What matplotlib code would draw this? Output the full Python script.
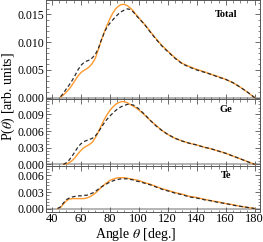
import numpy as np
import matplotlib.pyplot as plt
from matplotlib.ticker import MultipleLocator

plt.rcParams['font.family'] = ['Liberation Serif', 'DejaVu Serif']
plt.rcParams['mathtext.fontset'] = 'stix'

# angle grid (deg.)
angle = [44, 46, 48, 50, 52, 54, 56, 58, 60, 62, 64, 66, 68, 70, 72, 74, 76, 78,
         80, 82, 84, 86, 88, 90, 92, 94, 96, 98, 100, 104, 108, 112, 116, 120,
         125, 130, 135, 140, 145, 150, 155, 160, 165, 170, 175, 180]

nan = np.nan

total_ref = [nan, 0.0002, 0.0008, 0.0016, 0.0023, 0.0031, 0.0040, 0.0050, 0.0058, 0.0063,
             0.0066, 0.0068, 0.0072, 0.0078, 0.0088, 0.0103, 0.0116, 0.0127, 0.0134, 0.0140,
             0.0146, 0.0151, 0.0155, 0.0158, 0.0160, 0.0159, 0.0155, 0.0149, 0.0143, 0.0132,
             0.0118, 0.0105, 0.0093, 0.0083, 0.0071, 0.0061, 0.0055, 0.0050, 0.0046, 0.0042,
             0.0037, 0.0033, 0.0027, 0.0019, 0.0010, 0.0]
total_new = [nan, 0.0001, 0.0005, 0.0010, 0.0016, 0.0023, 0.0031, 0.0039, 0.0045, 0.0049,
             0.0052, 0.0056, 0.0062, 0.0071, 0.0086, 0.0102, 0.0117, 0.0130, 0.0142, 0.0152,
             0.0160, 0.0165, 0.0168, 0.0168, 0.0166, 0.0162, 0.0157, 0.0150, 0.0144, 0.0132,
             0.0119, 0.0106, 0.0094, 0.0084, 0.0072, 0.0062, 0.0056, 0.0051, 0.0047, 0.0042,
             0.0038, 0.0033, 0.0027, 0.0019, 0.0010, 0.0]

ge_ref = [nan, nan, 0.0, 0.0003, 0.0008, 0.0015, 0.0023, 0.0031, 0.0037, 0.0041,
          0.0043, 0.0045, 0.0047, 0.0051, 0.0058, 0.0066, 0.0074, 0.0081, 0.0087, 0.0092,
          0.0097, 0.0101, 0.0104, 0.0106, 0.0108, 0.0108, 0.0107, 0.0104, 0.0100, 0.0090,
          0.0079, 0.0069, 0.0061, 0.0054, 0.0047, 0.0042, 0.0038, 0.0035, 0.0031, 0.0028,
          0.0024, 0.0020, 0.0015, 0.0010, 0.0005, 0.0]
ge_new = [nan, nan, 0.0, 0.0001, 0.0003, 0.0007, 0.0012, 0.0019, 0.0025, 0.0030,
          0.0033, 0.0036, 0.0040, 0.0048, 0.0058, 0.0069, 0.0080, 0.0089, 0.0097, 0.0103,
          0.0108, 0.0111, 0.0113, 0.0113, 0.0111, 0.0108, 0.0105, 0.0102, 0.0098, 0.0089,
          0.0079, 0.0070, 0.0061, 0.0054, 0.0047, 0.0042, 0.0038, 0.0035, 0.0031, 0.0028,
          0.0024, 0.0020, 0.0015, 0.0010, 0.0005, 0.0]

te_ref = [0.0, 0.0003, 0.0010, 0.0016, 0.0019, 0.0021, 0.0022, 0.0023, 0.0023, 0.0024,
          0.0024, 0.0026, 0.0028, 0.0031, 0.0035, 0.0039, 0.0042, 0.0045, 0.0048, 0.0050,
          0.0052, 0.0053, 0.0054, 0.0054, 0.0054, 0.0053, 0.0052, 0.0050, 0.0049, 0.0046,
          0.0043, 0.0039, 0.0035, 0.0032, 0.0028, 0.0025, 0.0021, 0.0019, 0.0016, 0.0014,
          0.0011, 0.0009, 0.0006, 0.0004, 0.0002, 0.0]
te_new = [0.0, 0.0002, 0.0008, 0.0014, 0.0017, 0.0018, 0.0018, 0.0018, 0.0018, 0.0018,
          0.0019, 0.0021, 0.0024, 0.0028, 0.0033, 0.0038, 0.0043, 0.0047, 0.0051, 0.0053,
          0.0055, 0.0056, 0.0056, 0.0056, 0.0055, 0.0054, 0.0053, 0.0052, 0.0051, 0.0047,
          0.0044, 0.0040, 0.0036, 0.0033, 0.0029, 0.0026, 0.0022, 0.0020, 0.0017, 0.0014,
          0.0012, 0.0009, 0.0007, 0.0004, 0.0002, 0.0]

panels = [
    ('Total', total_ref, total_new, (-0.00027, 0.0176), [0.000, 0.005, 0.010, 0.015], 0.001, 0.85),
    ('Ge', ge_ref, ge_new, (-0.0002, 0.01173), [0.000, 0.003, 0.006, 0.009], 0.0006, 0.845),
    ('Te', te_ref, te_new, (-0.00072, 0.00781), [0.000, 0.003, 0.006], 0.0006, 0.785),
]

# axes rectangles in figure fractions (left, bottom, width, height)
rects = [
    (0.175, 0.590, 0.814, 0.410),
    (0.175, 0.316, 0.814, 0.274),
    (0.175, 0.122, 0.814, 0.194),
]

fig = plt.figure(figsize=(2.63, 2.42), dpi=100)
frame_col = '#555555'

for i, (name, ref, new, ylim, yt, ymin, ty) in enumerate(panels):
    ax = fig.add_axes(rects[i])
    ax.axhline(0, color='#b4b4b4', lw=1.4, zorder=1)
    ax.plot(angle, ref, color='#2b2b2b', lw=0.9, dashes=(3, 2), zorder=3)
    ax.plot(angle, new, color='#ff9a30', lw=1.0, zorder=2)
    ax.set_xlim(36, 183.7)
    ax.set_ylim(*ylim)
    ax.set_yticks(yt)
    ax.set_yticklabels(['%.3f' % v for v in yt])
    ax.yaxis.set_minor_locator(MultipleLocator(ymin))
    ax.set_xticks([40, 60, 80, 100, 120, 140, 160, 180])
    ax.xaxis.set_minor_locator(MultipleLocator(5))
    ax.tick_params(which='both', direction='in', top=True, right=True,
                   color=frame_col, labelsize=8.5, pad=1.5)
    ax.tick_params(axis='x', labelsize=9, pad=0.5)
    ax.tick_params(which='major', length=3.5, width=0.6)
    ax.tick_params(which='minor', length=1.8, width=0.5)
    for s in ax.spines.values():
        s.set_color(frame_col)
        s.set_linewidth(0.7)
    if i < 2:
        ax.tick_params(labelbottom=False)
    ax.text(0.84, ty, name, transform=ax.transAxes, ha='center', va='center',
            fontsize=7.5, fontweight='bold')

fig.text(0.517, 0.018, r'Angle $\theta$ [deg.]', ha='center', va='baseline', fontsize=10)
fig.text(0.0, 0.603, r'P($\theta$) [arb. units]', ha='left', va='center',
         rotation=90, fontsize=10)

fig.savefig('out.png', dpi=100)
